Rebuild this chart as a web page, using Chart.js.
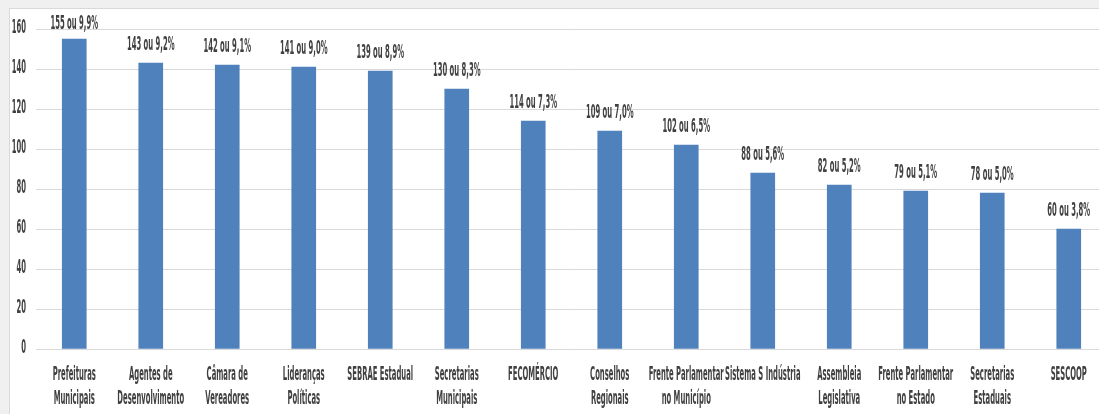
<!DOCTYPE html>
<html>
<head>
<meta charset="utf-8">
<script src="https://cdn.jsdelivr.net/npm/chart.js@4"></script>
<style>
  html, body { margin: 0; padding: 0; background: #f0f0f0; overflow: hidden; width: 1099px; height: 414px; }
  #panel { position: absolute; left: 9px; top: 8px; width: 1120px; height: 420px; background: #fff; border-top: 1px solid #d9d9d9; border-left: 1px solid #d9d9d9; }
  #chart { position: absolute; left: 0; top: 0; }
</style>
</head>
<body>
<div id="panel"><canvas id="chart" width="1110" height="405"></canvas></div>
<script>
const categories = [
  ["Prefeituras", "Municipais"],
  ["Agentes de", "Desenvolvimento"],
  ["Câmara de", "Vereadores"],
  ["Lideranças", "Políticas"],
  ["SEBRAE Estadual"],
  ["Secretarias", "Municipais"],
  ["FECOMÉRCIO"],
  ["Conselhos", "Regionais"],
  ["Frente Parlamentar", "no Município"],
  ["Sistema S Indústria"],
  ["Assembleia", "Legislativa"],
  ["Frente Parlamentar", "no Estado"],
  ["Secretarias", "Estaduais"],
  ["SESCOOP"]
];
const counts = [155, 143, 142, 141, 139, 130, 114, 109, 102, 88, 82, 79, 78, 60];
const percents = ["9,9", "9,2", "9,1", "9,0", "8,9", "8,3", "7,3", "7,0", "6,5", "5,6", "5,2", "5,1", "5,0", "3,8"];
const yTicks = [0, 20, 40, 60, 80, 100, 120, 140, 160];

const TEXT = "#404040";
const FONT = "bold 20px 'Liberation Sans Narrow', 'DejaVu Sans Condensed', sans-serif";
const SQUEEZE = 0.38;

// narrow text, squeezed horizontally around its anchor point
function squeezed(ctx, txt, x, y, align) {
  ctx.save();
  ctx.translate(x, y);
  ctx.scale(SQUEEZE, 1);
  ctx.textAlign = align;
  ctx.fillText(txt, 0, 0);
  ctx.restore();
}

const textPlugin = {
  id: "narrowText",
  afterDatasetsDraw(chart) {
    const ctx = chart.ctx;
    const x = chart.scales.x, y = chart.scales.y;
    ctx.save();
    ctx.fillStyle = TEXT;
    ctx.font = FONT;
    ctx.textBaseline = "middle";

    yTicks.forEach(v => squeezed(ctx, String(v), x.left - 10, y.getPixelForValue(v) - 1, "right"));

    categories.forEach((lines, i) => {
      const cx = x.getPixelForTick(i);
      lines.forEach((ln, j) => squeezed(ctx, ln, cx, y.bottom + 26 + j * 24, "center"));
    });

    const bars = chart.getDatasetMeta(0).data;
    bars.forEach((bar, i) => {
      const ly = Math.max(bar.y - 18, 15);
      squeezed(ctx, counts[i] + " ou " + percents[i] + "%", bar.x, ly, "center");
    });
    ctx.restore();
  }
};

new Chart(document.getElementById("chart"), {
  type: "bar",
  data: {
    labels: categories,
    datasets: [{
      data: counts,
      backgroundColor: "#4f81bd",
      barThickness: 24
    }]
  },
  options: {
    responsive: false,
    animation: false,
    layout: { padding: { left: 26, top: 20, right: 13, bottom: 57 } },
    plugins: { legend: { display: false }, tooltip: { enabled: false } },
    scales: {
      x: {
        grid: { display: false },
        border: { display: false },
        ticks: { display: false }
      },
      y: {
        min: 0,
        max: 160,
        ticks: { display: false, stepSize: 20 },
        grid: { color: "#d9d9d9", lineWidth: 1, drawTicks: false },
        border: { display: false }
      }
    }
  },
  plugins: [textPlugin]
});
</script>
</body>
</html>
